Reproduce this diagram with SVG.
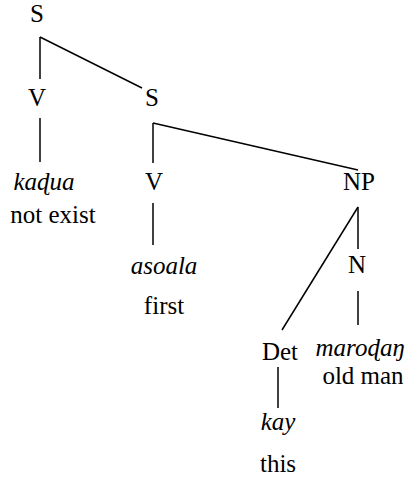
<svg xmlns="http://www.w3.org/2000/svg" width="408" height="480" viewBox="0 0 408 480">
<defs>
<style>
.t{font-size:25px;fill:#000;text-anchor:middle}
.it{font-style:italic}
.edges line{stroke:#000;stroke-width:1.5;fill:none}
</style>
</defs>
<rect width="408" height="480" fill="#fff"/>
<g class="edges">
<line x1="40" y1="37" x2="40" y2="79"/>
<line x1="40" y1="37" x2="142" y2="88"/>
<line x1="40" y1="118" x2="40" y2="162"/>
<line x1="153" y1="123" x2="153" y2="163"/>
<line x1="153" y1="123" x2="358" y2="170"/>
<line x1="153" y1="203" x2="153" y2="245"/>
<line x1="358" y1="207" x2="358" y2="249"/>
<line x1="358" y1="207" x2="282" y2="330"/>
<line x1="358" y1="291" x2="358" y2="325"/>
<line x1="278" y1="367" x2="278" y2="408"/>
</g>
<g font-family="'Liberation Serif', 'Times New Roman', 'DejaVu Serif', serif">
<g id="S1"><text class="t" x="37" y="22">S</text></g>
<g id="V1"><text class="t" x="37" y="106">V</text></g>
<g id="kadua"><text class="t it" x="44" y="190">kaɖua</text><text class="t" x="53" y="223">not exist</text></g>
<g id="S2"><text class="t" x="152" y="106">S</text></g>
<g id="V2"><text class="t" x="154" y="190">V</text></g>
<g id="asoala"><text class="t it" x="164" y="274">asoala</text><text class="t" x="164" y="314">first</text></g>
<g id="NP"><text class="t" x="359" y="190">NP</text></g>
<g id="N"><text class="t" x="357" y="273">N</text></g>
<g id="Det"><text class="t" x="280" y="360">Det</text></g>
<g id="marodan"><text class="t it" x="360" y="356">maroɖaŋ</text><text class="t" x="363" y="384">old man</text></g>
<g id="kay"><text class="t it" x="278" y="430">kay</text><text class="t" x="278" y="472">this</text></g>
</g>
</svg>
